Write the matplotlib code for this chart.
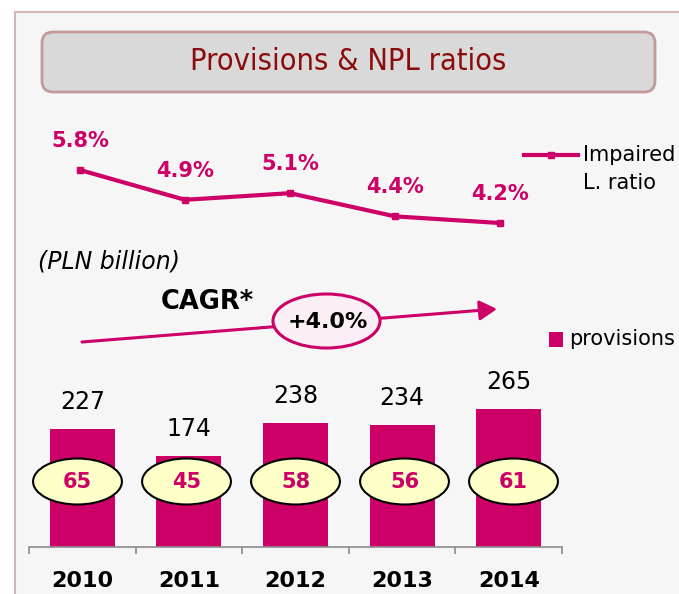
import matplotlib
matplotlib.use("Agg")
import matplotlib.pyplot as plt
from matplotlib.patches import Rectangle, FancyBboxPatch, Ellipse
from matplotlib.lines import Line2D

# data
years = ["2010", "2011", "2012", "2013", "2014"]
provisions = [227, 174, 238, 234, 265]
circled = [65, 45, 58, 56, 61]
impaired_ratio = [5.8, 4.9, 5.1, 4.4, 4.2]
cagr_label = "+4.0%"

W, H = 679, 594
MAGENTA = "#cc0066"
plt.rcParams["font.family"] = ["DejaVu Sans"]

fig = plt.figure(figsize=(W / 100, H / 100), dpi=100)
fig.patch.set_facecolor("white")


def box(left, top, width, height):
    # pixel box (from top-left) -> figure fraction rect
    return [left / W, 1 - (top + height) / H, width / W, height / H]


def py(y):
    return H - y


# background axes in pixel units (y flipped by hand)
bg = fig.add_axes([0, 0, 1, 1], zorder=0)
bg.set_xlim(0, W)
bg.set_ylim(0, H)
bg.axis("off")

# outer panel
bg.add_patch(Rectangle((14.5, py(700)), 700, 700 - 11.5, facecolor="#f6f6f6",
                       edgecolor="#d3b6b6", lw=1.5))

# title box
bg.add_patch(FancyBboxPatch((42, py(92)), 613, 60,
                            boxstyle="round,pad=0,rounding_size=11",
                            facecolor="#d9d9d9", edgecolor="#c39a9a", lw=2))
bg.text(348, py(62), "Provisions & NPL ratios", ha="center", va="center",
        fontsize=22, color="#8b0c0c", fontstretch="condensed")

# line legend (drawn by hand)
bg.add_line(Line2D([524, 578], [py(155), py(155)], color=MAGENTA, lw=3))
bg.add_line(Line2D([551], [py(155)], color=MAGENTA, marker="s", ms=5))
bg.text(583, py(155), "Impaired", ha="left", va="center", fontsize=15)
bg.text(583, py(183), "L. ratio", ha="left", va="center", fontsize=15)

# bar legend
bg.add_patch(Rectangle((549, py(347)), 14, 15, facecolor=MAGENTA, lw=0))
bg.text(569, py(339), "provisions", ha="left", va="center", fontsize=15)

bg.text(38, py(262), "(PLN billion)", ha="left", va="center",
        fontsize=17, style="italic")

# CAGR arrow + bubble
bg.annotate("", xy=(497, py(309)), xytext=(82, py(342)),
            arrowprops=dict(arrowstyle="-|>,head_length=0.7,head_width=0.4",
                            mutation_scale=15, color=MAGENTA, lw=2.2,
                            shrinkA=0, shrinkB=0))
bg.text(207, py(302), "CAGR*", ha="center", va="center", fontsize=18.5,
        fontweight="bold")
bg.add_patch(Ellipse((326.5, py(321)), 107, 54, facecolor="#fbeef4",
                     edgecolor=MAGENTA, lw=2.2, zorder=3))
bg.text(328, py(322), cagr_label, ha="center", va="center", fontsize=16,
        fontweight="bold", zorder=4)

# bars
PX_PER_UNIT = 0.521
ax = fig.add_axes(box(29, 0, 533, 547), zorder=1)
ax.set_facecolor("none")
x = list(range(len(years)))
ax.bar(x, provisions, width=0.61, color=MAGENTA)
ax.set_xlim(-0.5, 4.5)
ax.set_ylim(0, 547 / PX_PER_UNIT)
for i, v in enumerate(provisions):
    ax.annotate(str(v), (i, v), xytext=(0, 19.5), textcoords="offset points",
                ha="center", va="center", fontsize=17)
for s in ["top", "left", "right"]:
    ax.spines[s].set_visible(False)
ax.spines["bottom"].set_color("#8c8c8c")
ax.spines["bottom"].set_linewidth(1.2)
ax.set_yticks([])
ax.set_xticks(x, years, fontsize=16, fontweight="bold")
ax.set_xticks([i - 0.5 for i in range(len(years) + 1)], minor=True)
ax.tick_params(axis="x", which="major", length=0, pad=17)
ax.tick_params(axis="x", which="minor", length=5, width=1.2, color="#8c8c8c")

# circled figures inside bars
ax_c = fig.add_axes(box(23, 0, 545, 547), zorder=2)
ax_c.set_xlim(-0.5, 4.5)
ax_c.set_ylim(0, 547)
ax_c.axis("off")
for i, v in enumerate(circled):
    ax_c.add_patch(Ellipse((i, 547 - 481.5), 0.815, 46, facecolor="#ffffc8",
                           edgecolor="black", lw=1.5))
    ax_c.text(i, 547 - 482, str(v), ha="center", va="center", fontsize=15,
              fontweight="bold", color=MAGENTA)

# impaired loans ratio line
PX_PER_PCT = 53 / 1.6
ax_l = fig.add_axes(box(27.5, 0, 525, 547), zorder=2)
ax_l.set_facecolor("none")
ax_l.axis("off")
ax_l.set_xlim(-0.5, 4.5)
ax_l.set_ylim(5.8 - 377 / PX_PER_PCT, 5.8 + 170 / PX_PER_PCT)
ax_l.plot(x, impaired_ratio, color=MAGENTA, lw=3, marker="s", ms=5)
for i, v in enumerate(impaired_ratio):
    ax_l.annotate(f"{v:.1f}%", (i, v), xytext=(0, 21), textcoords="offset points",
                  ha="center", va="center", fontsize=15, fontweight="bold",
                  color=MAGENTA)

fig.savefig("out.png", dpi=100)
